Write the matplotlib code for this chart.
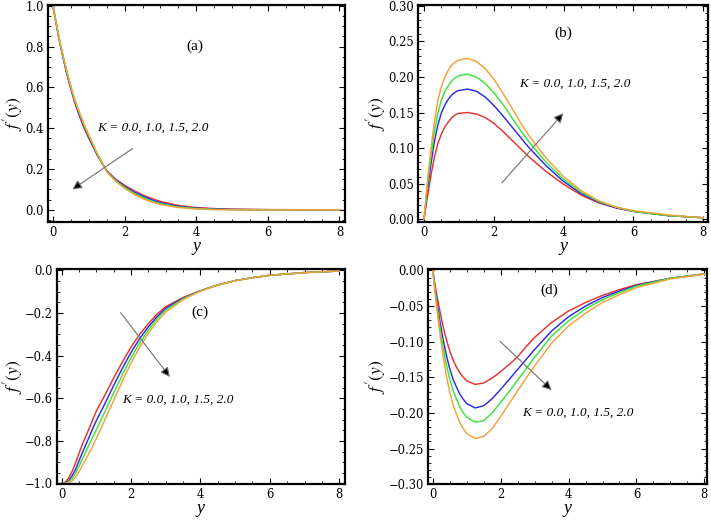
import numpy as np
import matplotlib
matplotlib.use('Agg')
import matplotlib.pyplot as plt
from matplotlib.ticker import MultipleLocator, FuncFormatter

plt.rcParams['font.family'] = ['Liberation Serif', 'DejaVu Serif']
plt.rcParams['mathtext.fontset'] = 'stix'

y = [0, 0.1, 0.2, 0.3, 0.4, 0.5, 0.6, 0.7, 0.8, 0.9, 1.0, 1.25, 1.5, 1.75, 2.0, 2.25, 2.5,
     2.75, 3.0, 3.5, 4.0, 4.5, 5.0, 5.5, 6.0, 7.0, 8.0]

K_values = ['0.0', '1.0', '1.5', '2.0']
colors = ['#e63232', '#2b2be0', '#3ee23e', '#f2a23a']

# panel (a)
a_K0 = [1.0, 0.90, 0.81, 0.73, 0.655, 0.59, 0.53, 0.478, 0.43, 0.388, 0.35, 0.262, 0.192, 0.15, 0.12, 0.095,
        0.073, 0.055, 0.041, 0.021, 0.011, 0.006, 0.003, 0.002, 0.001, 0.0003, 0.0]
a_K1 = [1.0, 0.902, 0.813, 0.734, 0.66, 0.595, 0.536, 0.485, 0.437, 0.395, 0.356, 0.265, 0.19, 0.147, 0.115,
        0.088, 0.067, 0.049, 0.035, 0.017, 0.008, 0.004, 0.002, 0.001, 0.0005, 0.0, 0.0]
a_K15 = [1.0, 0.903, 0.816, 0.738, 0.665, 0.6, 0.541, 0.491, 0.443, 0.401, 0.362, 0.268, 0.188, 0.143, 0.11,
         0.082, 0.061, 0.043, 0.030, 0.014, 0.006, 0.002, 0.001, 0.0, 0.0, 0.0, 0.0]
a_K2 = [1.0, 0.905, 0.818, 0.742, 0.67, 0.605, 0.546, 0.497, 0.45, 0.408, 0.368, 0.272, 0.186, 0.14, 0.105,
        0.077, 0.055, 0.039, 0.026, 0.011, 0.004, 0.001, 0.0, -0.001, -0.001, 0.0, 0.0]

# panel (b)
b_K0 = [0.0, 0.032, 0.062, 0.088, 0.107, 0.120, 0.130, 0.137, 0.143, 0.147, 0.149, 0.150, 0.148, 0.143, 0.135,
        0.124, 0.112, 0.100, 0.088, 0.067, 0.049, 0.034, 0.023, 0.016, 0.011, 0.005, 0.002]
b_K1 = [0.0, 0.042, 0.078, 0.110, 0.133, 0.150, 0.161, 0.169, 0.175, 0.179, 0.181, 0.183, 0.180, 0.172, 0.160,
        0.146, 0.131, 0.116, 0.101, 0.075, 0.053, 0.036, 0.024, 0.016, 0.011, 0.005, 0.002]
b_K15 = [0.0, 0.048, 0.089, 0.124, 0.150, 0.168, 0.180, 0.188, 0.195, 0.199, 0.202, 0.204, 0.200, 0.191, 0.178,
         0.162, 0.144, 0.126, 0.109, 0.080, 0.056, 0.038, 0.025, 0.017, 0.011, 0.005, 0.002]
b_K2 = [0.0, 0.055, 0.100, 0.138, 0.168, 0.187, 0.200, 0.210, 0.217, 0.221, 0.224, 0.226, 0.222, 0.212, 0.197,
        0.178, 0.158, 0.137, 0.118, 0.086, 0.060, 0.040, 0.026, 0.017, 0.012, 0.006, 0.002]

# panel (c)
c_K0 = [-1.0, -0.995, -0.975, -0.945, -0.905, -0.86, -0.815, -0.778, -0.74, -0.70, -0.66, -0.585, -0.505, -0.43,
        -0.36, -0.30, -0.25, -0.205, -0.17, -0.127, -0.095, -0.068, -0.048, -0.034, -0.023, -0.010, -0.003]
c_K1 = [-1.0, -0.998, -0.988, -0.965, -0.935, -0.895, -0.855, -0.818, -0.78, -0.742, -0.705, -0.625, -0.54, -0.46,
        -0.385, -0.32, -0.265, -0.217, -0.178, -0.130, -0.096, -0.068, -0.048, -0.034, -0.023, -0.010, -0.003]
c_K15 = [-1.0, -0.999, -0.992, -0.977, -0.952, -0.92, -0.885, -0.85, -0.815, -0.782, -0.748, -0.662, -0.575, -0.49,
         -0.41, -0.34, -0.28, -0.228, -0.186, -0.133, -0.096, -0.068, -0.048, -0.034, -0.023, -0.010, -0.003]
c_K2 = [-1.0, -1.0, -0.997, -0.988, -0.97, -0.945, -0.915, -0.886, -0.855, -0.823, -0.79, -0.70, -0.61, -0.52,
        -0.435, -0.36, -0.295, -0.24, -0.195, -0.137, -0.097, -0.069, -0.049, -0.034, -0.023, -0.010, -0.003]

# panel (d)
d_K0 = [0.0, -0.030, -0.055, -0.078, -0.097, -0.113, -0.126, -0.136, -0.144, -0.150, -0.155, -0.160, -0.158,
        -0.151, -0.142, -0.132, -0.121, -0.107, -0.094, -0.073, -0.057, -0.045, -0.035, -0.027, -0.020, -0.011, -0.005]
d_K1 = [0.0, -0.037, -0.068, -0.096, -0.119, -0.138, -0.153, -0.164, -0.174, -0.181, -0.187, -0.193, -0.190,
        -0.180, -0.167, -0.153, -0.139, -0.125, -0.111, -0.085, -0.065, -0.050, -0.038, -0.029, -0.021, -0.011, -0.005]
d_K15 = [0.0, -0.041, -0.076, -0.107, -0.132, -0.153, -0.169, -0.181, -0.192, -0.200, -0.206, -0.213, -0.211,
         -0.200, -0.185, -0.170, -0.154, -0.138, -0.122, -0.092, -0.071, -0.054, -0.041, -0.031, -0.022, -0.011, -0.005]
d_K2 = [0.0, -0.046, -0.085, -0.119, -0.148, -0.171, -0.189, -0.202, -0.214, -0.222, -0.229, -0.236, -0.233,
        -0.222, -0.205, -0.187, -0.169, -0.151, -0.134, -0.102, -0.078, -0.060, -0.045, -0.034, -0.024, -0.012, -0.005]

panels = [
    # label, curves, axes rect, xlim, ylim, y major, y minor, decimals, label pos, text pos, arrow start, arrow end
    ('(a)', [a_K0, a_K1, a_K15, a_K2], [0.0675, 0.573, 0.418, 0.417], (-0.14, 8.16), (-0.06, 1.003),
     0.2, 0.05, 1, (3.96, 0.80), (2.79, 0.40), (2.22, 0.30), (0.54, 0.10)),
    ('(b)', [b_K0, b_K1, b_K15, b_K2], [0.588, 0.573, 0.408, 0.417], (-0.17, 8.14), (-0.004, 0.301),
     0.05, 0.01, 2, (4.0, 0.2615), (4.31, 0.191), (2.23, 0.051), (3.99, 0.149)),
    ('(c)', [c_K0, c_K1, c_K15, c_K2], [0.080, 0.069, 0.405, 0.413], (-0.135, 8.16), (-1.003, 0.005),
     0.2, 0.05, 1, (3.99, -0.198), (3.36, -0.605), (1.70, -0.198), (3.12, -0.50)),
    ('(d)', [d_K0, d_K1, d_K15, d_K2], [0.602, 0.069, 0.392, 0.413], (-0.14, 8.07), (-0.30, 0.0015),
     0.05, 0.01, 2, (3.43, -0.028), (4.26, -0.20), (1.98, -0.0995), (3.50, -0.168)),
]


def tick_fmt(decimals):
    def f(v, pos):
        s = f'{v:.{decimals}f}'
        if float(s) == 0:
            s = s.lstrip('-')
        return s.replace('-', '\u2212')
    return FuncFormatter(f)


fig = plt.figure(figsize=(7.11, 5.20), dpi=100)

for (lab, curves, rect, xlim, ylim, ymaj, ymin, dec, lab_pos, txt_pos, a_start, a_end) in panels:
    ax = fig.add_axes(rect)
    for vals, c in zip(curves, colors):
        ax.plot(y, vals, color=c, lw=1.05)
    ax.set_xlim(*xlim)
    ax.set_ylim(*ylim)
    ax.xaxis.set_major_locator(MultipleLocator(2))
    ax.xaxis.set_minor_locator(MultipleLocator(0.5))
    ax.yaxis.set_major_locator(MultipleLocator(ymaj))
    ax.yaxis.set_minor_locator(MultipleLocator(ymin))
    ax.yaxis.set_major_formatter(tick_fmt(dec))
    ax.xaxis.set_major_formatter(tick_fmt(0))
    ax.tick_params(which='both', direction='in', top=True, right=True, pad=3)
    ax.tick_params(which='major', length=4, width=0.8)
    ax.tick_params(which='minor', length=2, width=0.6)
    for tl in ax.get_xticklabels() + ax.get_yticklabels():
        tl.set_fontfamily('DejaVu Serif')
        tl.set_fontsize(8.3)
    for sp in ax.spines.values():
        sp.set_linewidth(1.6)
    ax.set_xlabel('y', fontstyle='italic', fontsize=13, labelpad=-1)
    ax.set_ylabel(r"$f'(y)$", fontsize=12.5, labelpad=0)

    ax.text(lab_pos[0], lab_pos[1], lab, fontsize=11, ha='center', va='center')
    ax.text(txt_pos[0], txt_pos[1], 'K = ' + ', '.join(K_values), fontstyle='italic',
            fontsize=9.5, ha='center', va='center')
    ax.annotate('', xy=a_end, xytext=a_start,
                arrowprops=dict(arrowstyle='-|>', color='#707070', fc='black', ec='#707070',
                                lw=0.8, mutation_scale=14, shrinkA=0, shrinkB=0))

plt.savefig('out.png', dpi=100)
plt.close()
